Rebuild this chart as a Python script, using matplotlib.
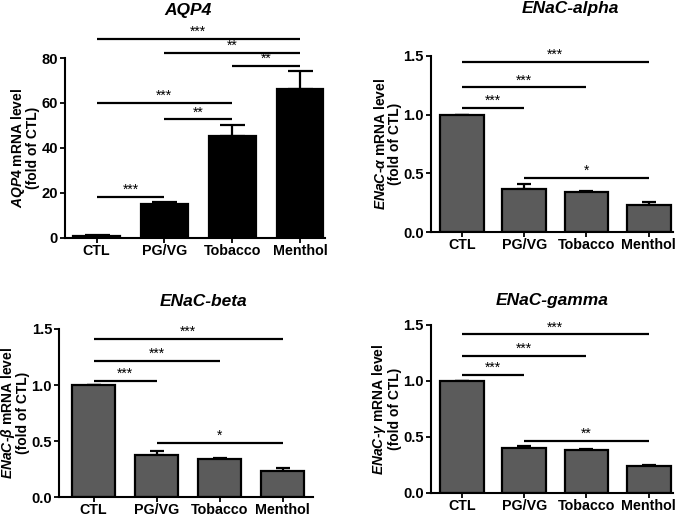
import matplotlib
matplotlib.use("Agg")
import matplotlib.pyplot as plt

plt.rcParams['font.family'] = ['Liberation Sans', 'DejaVu Sans']
plt.rcParams['mathtext.fontset'] = 'custom'
plt.rcParams['mathtext.it'] = 'Liberation Sans:italic:bold'
plt.rcParams['mathtext.rm'] = 'Liberation Sans:bold'
plt.rcParams['mathtext.bf'] = 'Liberation Sans:bold'

categories = ["CTL", "PG/VG", "Tobacco", "Menthol"]

aqp4_mean = [1.0, 15.0, 45.3, 66.1]
aqp4_err = [0.3, 0.8, 4.8, 8.0]
alpha_mean = [1.0, 0.365, 0.34, 0.232]
alpha_err = [0.0, 0.045, 0.01, 0.028]
beta_mean = [1.0, 0.374, 0.341, 0.232]
beta_err = [0.0, 0.04, 0.008, 0.028]
gamma_mean = [1.0, 0.40, 0.383, 0.243]
gamma_err = [0.0, 0.018, 0.012, 0.01]

aqp4_sig = [(0, 3, 88.4, '***'), (1, 3, 82.2, '**'), (2, 3, 76.4, '**'),
            (0, 2, 60.0, '***'), (1, 2, 52.7, '**'), (0, 1, 18.4, '***')]
alpha_sig = [(0, 3, 1.445, '***'), (0, 2, 1.23, '***'), (0, 1, 1.06, '***'), (1, 3, 0.46, '*')]
beta_sig = [(0, 3, 1.413, '***'), (0, 2, 1.217, '***'), (0, 1, 1.04, '***'), (1, 3, 0.484, '*')]
gamma_sig = [(0, 3, 1.414, '***'), (0, 2, 1.22, '***'), (0, 1, 1.05, '***'), (1, 3, 0.467, '**')]

W, H = 685, 516
fig = plt.figure(figsize=(W / 100, H / 100), dpi=100)


def px_axes(l, t, r, b):
    return fig.add_axes([l / W, 1 - b / H, (r - l) / W, (b - t) / H])


def panel(ax, means, errs, sigs, color, ylim, yticks, yticklabels, ylabel,
          xlim, width, capsize, title, tpos):
    x = list(range(len(categories)))
    ax.bar(x, means, width=width, color=color, edgecolor='black', linewidth=1.6, zorder=2)
    ax.errorbar(x, means, yerr=[[0] * len(errs), errs], fmt='none', ecolor='black',
                elinewidth=1.6, capsize=capsize, capthick=1.6, zorder=1)
    ax.set_xlim(*xlim)
    ax.set_ylim(*ylim)
    ax.set_yticks(yticks)
    ax.set_yticklabels(yticklabels, fontsize=10.6, fontweight='bold')
    ax.set_xticks(x)
    ax.set_xticklabels(categories, fontsize=10.3, fontweight='bold')
    for s in ['top', 'right']:
        ax.spines[s].set_visible(False)
    for s in ['left', 'bottom']:
        ax.spines[s].set_linewidth(1.5)
    ax.tick_params(axis='both', width=1.3, length=3.5, pad=1.5)
    ax.tick_params(axis='x', pad=0.5)
    ax.set_ylabel(ylabel, fontsize=10, fontweight='bold', linespacing=0.95, labelpad=1)
    for i, j, y, lab in sigs:
        ax.plot([i, j], [y, y], color='black', lw=1.6, clip_on=False, solid_capstyle='butt')
        ax.annotate(lab, xy=((i + j) / 2, y), xytext=(0, 0), textcoords='offset points',
                    ha='center', va='bottom', fontsize=10, annotation_clip=False)
    fig.text(tpos[0] / W, 1 - tpos[1] / H, title, ha='center', va='center',
             fontsize=12.5, fontweight='bold', fontstyle='italic')


ax1 = px_axes(65, 58, 325, 238)
panel(ax1, aqp4_mean, aqp4_err, aqp4_sig, 'black', (0, 80), [0, 20, 40, 60, 80],
      ['0', '20', '40', '60', '80'],
      r"$\mathit{AQP4}$ mRNA level" + "\n(fold of CTL)",
      (-0.465, 3.37), 0.69, 9, "AQP4", (188, 10))

ax2 = px_axes(430.7, 55.7, 673, 232.3)
panel(ax2, alpha_mean, alpha_err, alpha_sig, '#5b5b5b', (0, 1.5), [0, 0.5, 1.0, 1.5],
      ['0.0', '0.5', '1.0', '1.5'],
      r"$\mathit{ENaC}$-$\alpha$ mRNA level" + "\n(fold of CTL)",
      (-0.5, 3.39), 0.70, 4.8, "ENaC-alpha", (570, 9))

ax3 = px_axes(59, 329, 313, 497.3)
panel(ax3, beta_mean, beta_err, beta_sig, '#5b5b5b', (0, 1.5), [0, 0.5, 1.0, 1.5],
      ['0.0', '0.5', '1.0', '1.5'],
      r"$\mathit{ENaC}$-$\beta$ mRNA level" + "\n(fold of CTL)",
      (-0.55, 3.48), 0.68, 4.8, "ENaC-beta", (203, 302))

ax4 = px_axes(430.7, 324.7, 673, 493)
panel(ax4, gamma_mean, gamma_err, gamma_sig, '#5b5b5b', (0, 1.5), [0, 0.5, 1.0, 1.5],
      ['0.0', '0.5', '1.0', '1.5'],
      r"$\mathit{ENaC}$-$\gamma$ mRNA level" + "\n(fold of CTL)",
      (-0.5, 3.39), 0.70, 4.8, "ENaC-gamma", (552, 301))

fig.savefig("out.png", dpi=100)
